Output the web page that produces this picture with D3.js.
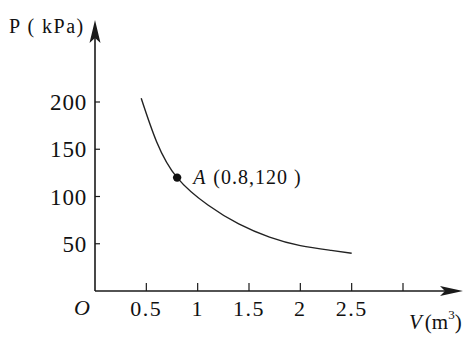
<!DOCTYPE html>
<html>
<head>
<meta charset="utf-8">
<script src="https://cdn.jsdelivr.net/npm/d3@7"></script>
<style>
  body { margin: 0; background: #fff; }
  svg text { font-family: "Liberation Serif", "Times New Roman", serif; fill: #111; }
</style>
</head>
<body>
<svg width="475" height="341"></svg>
<script>
// curve: volume (m3) and pressure (kPa)
var volume   = [0.45, 0.6, 0.8, 1.1, 1.4, 1.7, 2.0, 2.3, 2.5];
var pressure = [204, 158, 120, 91, 71, 57, 48, 43, 40];

var xTicks = [0.5, 1, 1.5, 2, 2.5, 3],
    xTickLabels = ["0.5", "1", "1.5", "2", "2.5", ""];
var yTicks = [50, 100, 150, 200],
    yTickLabels = ["50", "100", "150", "200"];

var pointA = {v: 0.8, p: 120, label: "(0.8,120 )"};

var svg = d3.select("svg");

var x = d3.scaleLinear().domain([0, 3]).range([95, 403]);
var y = d3.scaleLinear().domain([0, 200]).range([291, 102]);

var ink = "#1a1a1a";

// axes
svg.append("line")
    .attr("x1", x(0)).attr("y1", y(0))
    .attr("x2", 455).attr("y2", y(0))
    .attr("stroke", ink).attr("stroke-width", 1.6);
svg.append("line")
    .attr("x1", x(0)).attr("y1", y(0))
    .attr("x2", x(0)).attr("y2", 30)
    .attr("stroke", ink).attr("stroke-width", 1.6);

// arrow heads
svg.append("path")
    .attr("d", "M463," + y(0) + " L440," + (y(0) - 5) + " L445," + y(0) + " L440," + (y(0) + 5) + "Z")
    .attr("fill", ink);
svg.append("path")
    .attr("d", "M" + x(0) + ",20 L" + (x(0) - 5.5) + ",43 L" + x(0) + ",38 L" + (x(0) + 5.5) + ",43Z")
    .attr("fill", ink);

// x ticks (pointing up)
svg.selectAll(".xt")
    .data(xTicks)
    .enter().append("line")
        .attr("x1", function(d) { return x(d); })
        .attr("x2", function(d) { return x(d); })
        .attr("y1", y(0))
        .attr("y2", y(0) - 8)
        .attr("stroke", ink).attr("stroke-width", 1.2);

svg.selectAll(".xl")
    .data(xTicks)
    .enter().append("text")
        .attr("x", function(d) { return x(d); })
        .attr("y", 316)
        .attr("text-anchor", "middle")
        .attr("font-size", 22)
        .attr("letter-spacing", 1.5)
        .text(function(d, i) { return xTickLabels[i]; });

// y ticks (pointing right)
svg.selectAll(".yt")
    .data(yTicks)
    .enter().append("line")
        .attr("x1", x(0))
        .attr("x2", x(0) + 5)
        .attr("y1", function(d) { return y(d); })
        .attr("y2", function(d) { return y(d); })
        .attr("stroke", ink).attr("stroke-width", 1.2);

svg.selectAll(".yl")
    .data(yTicks)
    .enter().append("text")
        .attr("x", 87)
        .attr("y", function(d) { return y(d) + 8; })
        .attr("text-anchor", "end")
        .attr("font-size", 23)
        .attr("letter-spacing", 0.8)
        .text(function(d, i) { return yTickLabels[i]; });

// origin and axis titles
svg.append("text")
    .attr("x", 74).attr("y", 315)
    .attr("font-size", 22).attr("font-style", "italic")
    .text("O");

svg.append("text")
    .attr("x", 9).attr("y", 33)
    .attr("font-size", 20)
    .attr("letter-spacing", 1.5)
    .text("P ( kPa)");

var vt = svg.append("text")
    .attr("x", 409).attr("y", 329)
    .attr("font-size", 21);
vt.append("tspan").attr("font-style", "italic").text("V");
vt.append("tspan").attr("dx", 3).text("(m");
vt.append("tspan").attr("font-size", 13).attr("dy", -10).text("3");
vt.append("tspan").attr("dy", 10).text(")");

// curve
var line = d3.line()
    .x(function(d, i) { return x(volume[i]); })
    .y(function(d, i) { return y(pressure[i]); })
    .curve(d3.curveNatural);

svg.append("path")
    .attr("d", line(volume))
    .attr("fill", "none")
    .attr("stroke", "#222")
    .attr("stroke-width", 1.4);

// point A
svg.append("circle")
    .attr("cx", x(pointA.v)).attr("cy", y(pointA.p))
    .attr("r", 4.2)
    .attr("fill", "#111");

var at = svg.append("text")
    .attr("x", x(pointA.v) + 16).attr("y", y(pointA.p) + 6)
    .attr("font-size", 20)
    .attr("letter-spacing", 1);
at.append("tspan").attr("font-style", "italic").text("A");
at.append("tspan").attr("dx", 7).text(pointA.label);
</script>
</body>
</html>
